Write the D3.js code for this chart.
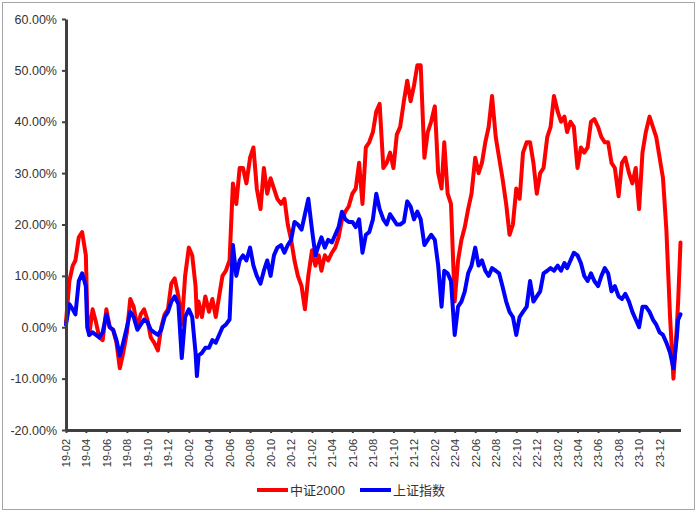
<!DOCTYPE html>
<html><head><meta charset="utf-8">
<script src="https://cdn.jsdelivr.net/npm/d3@7"></script>
<style>
html,body{margin:0;padding:0;background:#fff;}
svg{display:block;}
</style></head>
<body>
<svg id="chart" width="700" height="516"></svg>
<script>
const dates = [
"2019-02-01","2019-02-11","2019-02-21","2019-03-01","2019-03-11","2019-03-21",
"2019-04-01","2019-04-05","2019-04-11","2019-04-21","2019-05-01","2019-05-11","2019-05-21",
"2019-06-01","2019-06-11","2019-06-21","2019-07-01","2019-07-11","2019-07-21",
"2019-08-01","2019-08-11","2019-08-21","2019-09-01","2019-09-11","2019-09-21",
"2019-10-01","2019-10-11","2019-10-21","2019-11-01","2019-11-11","2019-11-21",
"2019-12-01","2019-12-11","2019-12-21","2020-01-01","2020-01-11","2020-01-21",
"2020-02-01","2020-02-11","2020-02-21","2020-02-25","2020-03-01","2020-03-11","2020-03-21",
"2020-04-01","2020-04-11","2020-04-21","2020-05-01","2020-05-11","2020-05-21",
"2020-06-01","2020-06-11","2020-06-21","2020-07-01","2020-07-11","2020-07-21",
"2020-08-01","2020-08-11","2020-08-21","2020-09-01","2020-09-11","2020-09-21",
"2020-10-01","2020-10-11","2020-10-21","2020-11-01","2020-11-11","2020-11-21",
"2020-12-01","2020-12-11","2020-12-21","2021-01-01","2021-01-11","2021-01-21",
"2021-02-01","2021-02-11","2021-02-21","2021-03-01","2021-03-11","2021-03-21",
"2021-04-01","2021-04-11","2021-04-21","2021-05-01","2021-05-11","2021-05-21",
"2021-06-01","2021-06-11","2021-06-21","2021-07-01","2021-07-11","2021-07-21",
"2021-08-01","2021-08-11","2021-08-21","2021-09-01","2021-09-11","2021-09-21",
"2021-10-01","2021-10-11","2021-10-21","2021-11-01","2021-11-11","2021-11-21",
"2021-12-01","2021-12-11","2021-12-21","2022-01-01","2022-01-11","2022-01-21",
"2022-02-01","2022-02-11","2022-02-21","2022-03-01","2022-03-11","2022-03-21",
"2022-04-01","2022-04-11","2022-04-21","2022-05-01","2022-05-11","2022-05-21",
"2022-06-01","2022-06-11","2022-06-21","2022-07-01","2022-07-11","2022-07-21",
"2022-08-01","2022-08-11","2022-08-21","2022-09-01","2022-09-11","2022-09-21",
"2022-10-01","2022-10-11","2022-10-21","2022-11-01","2022-11-11","2022-11-21",
"2022-12-01","2022-12-11","2022-12-21","2023-01-01","2023-01-11","2023-01-21",
"2023-02-01","2023-02-11","2023-02-21","2023-03-01","2023-03-11","2023-03-21",
"2023-04-01","2023-04-11","2023-04-21","2023-05-01","2023-05-11","2023-05-21",
"2023-06-01","2023-06-11","2023-06-21","2023-07-01","2023-07-11","2023-07-21",
"2023-08-01","2023-08-11","2023-08-21","2023-09-01","2023-09-11","2023-09-21",
"2023-10-01","2023-10-11","2023-10-21","2023-11-01","2023-11-11","2023-11-21",
"2023-12-01","2023-12-11","2023-12-21","2024-01-01","2024-01-11","2024-01-21",
"2024-01-25","2024-02-01"];

// 中证2000 (%)
const csi2000 = [
1,9,12,13,17.5,18.5,
14,3,-1.5,3.5,1,-2,-2.5,
3.5,0,-0.5,-3,-8,-5,
-1,5.5,4,0,2.5,3.5,
1.5,-2,-3,-4.5,0,2.5,
3.5,8.5,9.5,6,0.5,10,
15.5,14,8,2,5,2,6,
3,5.5,2,6,10,11,
13,28,24,31,31,28,
33,35,27,23,31,26,
29,27,25,24,25,20,
17,13,10,8,3.5,10,
15,12,14,11,14,13,
14.5,15.5,17.5,21,22.5,23.5,
26,27,32,24,35,36,
38,42,43.5,31,32,34,
31,37.5,39,44,48,44,
47,51,51,33,38,40,
43,30,27,36,26,24,
5,13,17,19.5,23,26,
33,30,32,36,39,45,
37,33,29,24,18,20,
27,25,34,36,36,32,
26,30,31,37,39,45,
42,40,41,38,40,39,
31,35,34,35,40,40.5,
39,37,36,36,32,31,
25.5,32,33,30,28,31,
23,34,38,41,39,37,
33,29,19,2,-10,0,
5,16.5];

// 上证指数 (%)
const sse = [
0.5,4.5,3.5,2.5,9,10.5,
8,0,-1.5,-1,-1.5,-2,-1,
2.5,0,-0.5,-2.5,-5.5,-3,
0,3,2,-0.5,0.5,1.5,
1,-0.5,-1,-1.5,-0.5,2,
3,5,6,4.5,-6,2,
3.5,2,-5,-9.5,-5.5,-5,-4,
-4,-2.5,-3,-1.5,0,0.5,
1.5,16,10,13,14,13,
15.5,12,10,8.5,11,13,
10,14,15.5,16,14.5,16,
17,20.5,20,19,22,25,
19,14,16,17.5,15.5,17,
16.5,18,19.5,22.5,21,20.5,
20.5,19.5,21,14.5,18,18.5,
21,26,23,21,20,22,
21,20,20,20.5,24.5,23.5,
21,22.5,21,16,17,18,
17,12,4,11,10.5,9,
-1.5,4,5,7,10.5,12,
15.5,12,13,11,10,11.5,
11,10.5,8,5,3,2,
-1.5,2,3,4,9,5,
6,7,10.5,11,11.5,11,
12,11,12.5,11.5,13,14.5,
14,12.5,10,9,10.5,9,
8,10,11.5,10.5,7,8,
6,5.5,6.5,5,3,1.5,
0,4,4,3,1.5,0.5,
-1,-1.5,-3,-5,-8,-2,
1.5,2.5];

const yTicks = [-20,-10,0,10,20,30,40,50,60];
const xTickLabels = ["19-02","19-04","19-06","19-08","19-10","19-12",
"20-02","20-04","20-06","20-08","20-10","20-12",
"21-02","21-04","21-06","21-08","21-10","21-12",
"22-02","22-04","22-06","22-08","22-10","22-12",
"23-02","23-04","23-06","23-08","23-10","23-12"];
const seriesNames = ["中证2000","上证指数"];
const seriesColors = ["#ff0000","#0000ff"];

const parse = d3.timeParse("%Y-%m-%d");
const parseTick = d3.timeParse("%y-%m");
const fmtTick = d3.timeFormat("%y-%m");
const xs = dates.map(parse);

const svg = d3.select("#chart");
const font = "'Liberation Sans', Arial, 'Noto Sans CJK SC', sans-serif";

// outer border
svg.append("rect").attr("x",2.5).attr("y",2.5).attr("width",692).attr("height",507)
  .attr("fill","none").attr("stroke","#a6a6a6").attr("stroke-width",1);

const x = d3.scaleTime().domain([parse("2019-02-01"), parse("2024-02-01")]).range([66, 680.5]);
const y = d3.scaleLinear().domain([-20, 60]).range([430, 19]);

// lines
const series = [csi2000, sse];
series.forEach((vals, i) => {
  const line = d3.line().x((d, j) => x(xs[j])).y(d => y(d));
  svg.append("path").datum(vals).attr("d", line)
    .attr("fill","none").attr("stroke", seriesColors[i]).attr("stroke-width",4)
    .attr("stroke-linejoin","round").attr("stroke-linecap","round");
});

// y axis
const yAxis = d3.axisLeft(y).tickValues(yTicks).tickSize(4).tickSizeOuter(0).tickPadding(5)
  .tickFormat(d => d.toFixed(2) + "%");
const gy = svg.append("g").attr("transform","translate(66,0)").call(yAxis);
gy.select(".domain").attr("stroke","#404040").attr("stroke-width",3);
gy.selectAll(".tick line").attr("stroke","#404040").attr("stroke-width",2);
gy.selectAll(".tick text").attr("font-family",font).attr("font-size","12.5px").attr("fill","#333");

// x axis
const xAxis = d3.axisBottom(x).tickValues(xTickLabels.map(parseTick)).tickSize(3).tickSizeOuter(0)
  .tickFormat(fmtTick);
const gx = svg.append("g").attr("transform","translate(0,430)").call(xAxis);
gx.select(".domain").attr("stroke","#404040").attr("stroke-width",3);
gx.selectAll(".tick line").attr("stroke","#404040").attr("stroke-width",2);
gx.selectAll(".tick text").attr("font-family",font).attr("font-size","11px").attr("fill","#333")
  .attr("transform","rotate(-90)").attr("text-anchor","end")
  .attr("x",-9).attr("y",0).attr("dy","0.35em");

// legend
const legendX = [257, 360];
seriesNames.forEach((name, i) => {
  const g = svg.append("g").attr("transform", `translate(${legendX[i]},490)`);
  g.append("line").attr("x1",0).attr("x2",31).attr("y1",0).attr("y2",0)
    .attr("stroke", seriesColors[i]).attr("stroke-width",4);
  g.append("text").attr("x",33).attr("y",0).attr("dy","0.35em")
    .attr("font-family",font).attr("font-size","13px").attr("fill","#333").text(name);
});
</script>
</body></html>
